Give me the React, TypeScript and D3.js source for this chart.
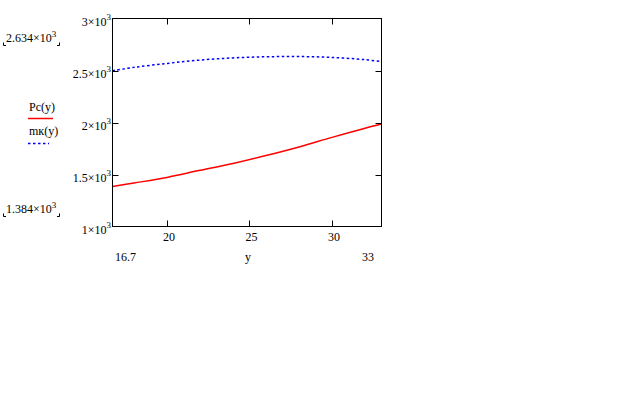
import * as d3 from "d3";

// argument values (y) and the two curves
const yArg = [16.7, 18, 20, 22, 24, 26, 28, 30, 32, 33];
const pcValues = [1384, 1418, 1472, 1540, 1606, 1682, 1765, 1857, 1945, 1985];
const mkValues = [2498, 2530, 2568, 2600, 2621, 2632, 2634, 2626, 2604, 2585];

const xTicks = [20, 25, 30];
const yTicks = [1000, 1500, 2000, 2500, 3000];
const yTickLabels = ["1×10", "1.5×10", "2×10", "2.5×10", "3×10"];
const xLimits = ["16.7", "33"];
const yLimits = ["2.634×10", "1.384×10"];
const legendLabels = ["Pc(y)", "mк(y)"];

const font = "'Liberation Serif', 'Times New Roman', serif";

export default function App() {
  const width = 640,
    height = 400,
    box = { left: 112.5, right: 381.5, top: 18.5, bottom: 226.5 },
    tick = 6;

  const xScale = d3.scaleLinear().domain([16.7, 33]).range([box.left, box.right]);
  const yScale = d3.scaleLinear().domain([1000, 3000]).range([box.bottom, box.top]);

  const line = d3
    .line<number>()
    .x((_, i) => xScale(yArg[i]))
    .y((d) => yScale(d))
    .curve(d3.curveCatmullRom);

  // little corner marks Mathcad draws round the range limits
  const bracket = (x0: number, x1: number, y: number) => (
    <g stroke="black" strokeWidth={1} fill="none">
      <path d={`M${x0 + 0.5},${y - 2.5}V${y + 0.5}H${x0 + 3}`} />
      <path d={`M${x1 + 0.5},${y - 2.5}V${y + 0.5}H${x1 - 2}`} />
    </g>
  );

  return (
    <svg
      width={width}
      height={height}
      style={{ position: "absolute", left: 0, top: 0, background: "white" }}
      fontFamily={font}
      fontSize={12}
    >
      <rect width={width} height={height} fill="white" />

      {/* y range limits */}
      <text x={6} y={42}>
        {yLimits[0]}
        <tspan fontSize={9} dy={-5}>3</tspan>
      </text>
      {bracket(3, 59, 45)}
      <text x={6} y={213}>
        {yLimits[1]}
        <tspan fontSize={9} dy={-5}>3</tspan>
      </text>
      {bracket(3, 59, 216)}

      {/* legend */}
      <text x={29} y={111}>{legendLabels[0]}</text>
      <line x1={28} x2={53} y1={118.5} y2={118.5} stroke="#ff0000" strokeWidth={1.5} />
      <text x={29} y={135}>{legendLabels[1]}</text>
      <line
        x1={28}
        x2={49}
        y1={143.5}
        y2={143.5}
        stroke="#0000ff"
        strokeWidth={1.5}
        strokeDasharray="2.5,2.5"
      />

      {/* curves */}
      <path d={line(pcValues) ?? ""} fill="none" stroke="#ff0000" strokeWidth={1.5} />
      <path
        d={line(mkValues) ?? ""}
        fill="none"
        stroke="#0000ff"
        strokeWidth={1.5}
        strokeDasharray="2.5,2.5"
      />

      {/* frame and ticks */}
      <rect
        x={box.left}
        y={box.top}
        width={box.right - box.left}
        height={box.bottom - box.top}
        fill="none"
        stroke="black"
        strokeWidth={1}
      />
      <g stroke="black" strokeWidth={1}>
        {xTicks.map((t) => {
          const x = Math.round(xScale(t)) + 0.5;
          return (
            <g key={t}>
              <line x1={x} x2={x} y1={box.bottom} y2={box.bottom - tick} />
              <line x1={x} x2={x} y1={box.top} y2={box.top + tick} />
            </g>
          );
        })}
        {yTicks.slice(1, -1).map((t) => {
          const y = Math.round(yScale(t)) + 0.5;
          return (
            <g key={t}>
              <line x1={box.left} x2={box.left + tick} y1={y} y2={y} />
              <line x1={box.right} x2={box.right - tick} y1={y} y2={y} />
            </g>
          );
        })}
      </g>

      {/* y tick labels */}
      {yTicks.map((t, i) => (
        <text key={t} x={111} y={yScale(t) + 7} textAnchor="end">
          {yTickLabels[i]}
          <tspan fontSize={9} dy={-6}>3</tspan>
        </text>
      ))}

      {/* x tick labels */}
      {xTicks.map((t) => (
        <text key={t} x={xScale(t) + 2} y={241} textAnchor="middle">
          {t}
        </text>
      ))}
      <text x={115} y={261}>{xLimits[0]}</text>
      <text x={374} y={261} textAnchor="end">{xLimits[1]}</text>
      <text x={248} y={261} textAnchor="middle">y</text>
    </svg>
  );
}
